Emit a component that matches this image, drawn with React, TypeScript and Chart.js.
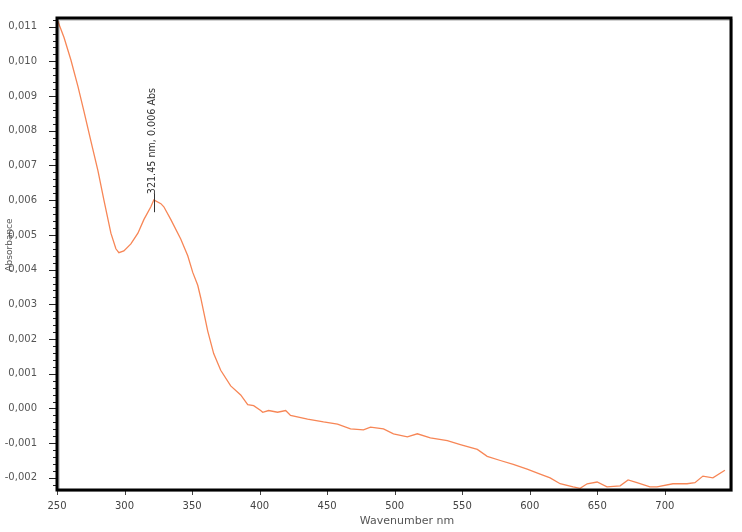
import { useEffect, useRef } from 'react';
import { Chart, registerables } from 'chart.js';

Chart.register(...registerables);

// Wavelength (nm) and absorbance
const wavelengths = [
  250.5, 255.2, 260.3, 265.5, 270.0, 275.1, 280.3, 284.7, 289.9, 293.6, 295.8, 299.5,
  304.7, 309.9, 314.3, 319.5, 321.7, 326.9, 329.1, 334.3, 341.6, 346.8, 350.5, 354.2,
  356.4, 361.6, 366.0, 371.2, 378.6, 386.0, 391.2, 395.6, 400.8, 402.3, 406.7, 413.3,
  419.3, 422.9, 435.5, 447.3, 457.7, 467.3, 476.9, 482.1, 491.7, 499.1, 509.4, 516.8,
  526.4, 539.0, 548.6, 561.2, 568.5, 578.2, 587.8, 598.1, 607.7, 615.1, 622.5, 632.1,
  637.3, 642.5, 649.9, 657.2, 666.9, 672.8, 679.4, 689.0, 694.2, 706.0, 716.4, 722.3,
  728.2, 735.6, 744.5,
];
const absorbance = [
  0.01117, 0.01069, 0.01004, 0.00928, 0.00855, 0.0077, 0.00685, 0.00601, 0.00505, 0.0046, 0.00449, 0.00454,
  0.00474, 0.00505, 0.00544, 0.00581, 0.00601, 0.0059, 0.00581, 0.00544, 0.00488, 0.0044, 0.00392, 0.00355,
  0.00319, 0.00223, 0.00158, 0.0011, 0.00065, 0.00039, 0.00011, 0.00008, -0.00006, -0.00011, -0.00006, -0.00011,
  -0.00006, -0.0002, -0.00031, -0.00039, -0.00045, -0.00059, -0.00062, -0.00054, -0.00059, -0.00073, -0.00082, -0.00073,
  -0.00085, -0.00093, -0.00104, -0.00118, -0.00138, -0.0015, -0.00161, -0.00175, -0.00189, -0.002, -0.00217, -0.00226,
  -0.0023, -0.00217, -0.00212, -0.00226, -0.00223, -0.00206, -0.00214, -0.00226, -0.00226, -0.00217, -0.00217, -0.00214,
  -0.00195, -0.002, -0.00178,
];

const xTicks = [250, 300, 350, 400, 450, 500, 550, 600, 650, 700];
const yTicks = [-0.002, -0.001, 0, 0.001, 0.002, 0.003, 0.004, 0.005, 0.006, 0.007, 0.008, 0.009, 0.01, 0.011];

const peakX = 321.45;
const peakY = 0.006;
const peakLabel = '321.45 nm, 0.006 Abs';
const xTitle = 'Wavenumber nm';
const yTitle = 'Absorbance';

const FONT = '"DejaVu Sans", sans-serif';

const framePlugin = {
  id: 'frameAndAnnot',
  afterDraw(chart: any) {
    const ctx = chart.ctx as CanvasRenderingContext2D;
    const { left, top, right, bottom } = chart.chartArea;
    const xs = chart.scales.x;
    const ys = chart.scales.y;
    ctx.save();
    // y axis minor ticks
    ctx.strokeStyle = '#222';
    ctx.lineWidth = 1;
    for (let i = -11; i <= 56; i++) {
      const v = i * 0.0002;
      const py = Math.round(ys.getPixelForValue(v)) + 0.5;
      if (py < top || py > bottom) continue;
      ctx.beginPath();
      ctx.moveTo(left - 4, py);
      ctx.lineTo(left, py);
      ctx.stroke();
    }
    for (const v of yTicks) {
      const py = Math.round(ys.getPixelForValue(v)) + 0.5;
      ctx.beginPath();
      ctx.moveTo(left - 8, py);
      ctx.lineTo(left, py);
      ctx.stroke();
    }
    // x axis major ticks
    ctx.strokeStyle = '#444';
    for (const v of xTicks) {
      const px = Math.round(xs.getPixelForValue(v)) + 0.5;
      ctx.beginPath();
      ctx.moveTo(px, bottom);
      ctx.lineTo(px, bottom + 5);
      ctx.stroke();
    }
    // frame with soft shadow
    ctx.strokeStyle = 'rgba(0,0,0,0.18)';
    ctx.lineWidth = 2;
    ctx.strokeRect(left + 2, top + 2, right - left - 1, bottom - top - 1);
    ctx.strokeStyle = '#000';
    ctx.lineWidth = 3;
    ctx.strokeRect(left, top, right - left, bottom - top);

    // peak annotation
    const px = xs.getPixelForValue(peakX);
    const py = ys.getPixelForValue(peakY);
    ctx.strokeStyle = '#333';
    ctx.lineWidth = 1;
    ctx.beginPath();
    ctx.moveTo(Math.round(px) + 0.5, py - 7);
    ctx.lineTo(Math.round(px) + 0.5, py + 12);
    ctx.stroke();
    ctx.translate(px - 1, py - 6);
    ctx.rotate(-Math.PI / 2);
    ctx.fillStyle = '#333';
    ctx.font = `9.6px ${FONT}`;
    ctx.textAlign = 'left';
    ctx.textBaseline = 'middle';
    ctx.fillText(peakLabel, 0, 0);
    ctx.restore();

    // axis titles
    ctx.save();
    ctx.fillStyle = '#555';
    ctx.font = `11px ${FONT}`;
    ctx.textAlign = 'center';
    ctx.textBaseline = 'middle';
    ctx.fillText(xTitle, 407, 521);
    ctx.translate(10, 245);
    ctx.rotate(-Math.PI / 2);
    ctx.font = `9px ${FONT}`;
    ctx.fillText(yTitle, 0, 0);
    ctx.restore();
  },
};

export default function App() {
  const ref = useRef<HTMLCanvasElement | null>(null);
  useEffect(() => {
    if (!ref.current) return;
    const chart = new Chart(ref.current, {
      type: 'line',
      data: {
        datasets: [
          {
            data: wavelengths.map((x, i) => ({ x, y: absorbance[i] })),
            borderColor: 'rgb(247,134,86)',
            borderWidth: 1.3,
            pointRadius: 0,
            tension: 0,
            fill: false,
          },
        ],
      },
      options: {
        animation: false,
        responsive: false,
        maintainAspectRatio: false,
        layout: { padding: { left: 0, top: 7, right: 11, bottom: 0 } },
        plugins: { legend: { display: false }, tooltip: { enabled: false } },
        scales: {
          x: {
            type: 'linear',
            min: 250,
            max: 749,
            grid: { display: false },
            border: { display: false },
            afterBuildTicks: (s: any) => {
              s.ticks = xTicks.map((v) => ({ value: v }));
            },
            afterFit: (s: any) => {
              s.height = 42;
            },
            ticks: {
              color: '#444',
              font: { family: FONT, size: 10 },
              padding: 2,
              maxRotation: 0,
              autoSkip: false,
              callback: (v: any) => String(v),
            },
          },
          y: {
            type: 'linear',
            min: -0.00235,
            max: 0.01125,
            grid: { display: false },
            border: { display: false },
            afterBuildTicks: (s: any) => {
              s.ticks = yTicks.map((v) => ({ value: v }));
            },
            afterFit: (s: any) => {
              s.width = 57;
            },
            ticks: {
              color: '#555',
              font: { family: FONT, size: 10 },
              padding: 12,
              autoSkip: false,
              callback: (v: any) => Number(v).toFixed(3).replace('.', ','),
            },
          },
        },
      },
      plugins: [framePlugin],
    });
    return () => chart.destroy();
  }, []);
  return (
    <div style={{ position: 'absolute', left: 0, top: 0, width: 742, height: 532, background: '#fff' }}>
      <canvas ref={ref} width={742} height={532} />
    </div>
  );
}
